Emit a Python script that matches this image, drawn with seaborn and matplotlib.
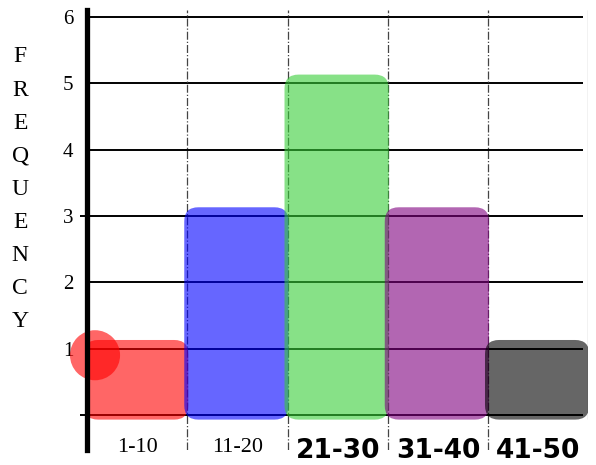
import matplotlib
matplotlib.use("Agg")
import pandas as pd
import seaborn as sns
import matplotlib.pyplot as plt
from matplotlib.patches import FancyBboxPatch

# ------ data ------ #
bins = ["1-10", "11-20", "21-30", "31-40", "41-50"]
frequency = [1, 3, 5, 3, 1]
bar_colors = ["#ff0000", "#0000ff", "#37cd37", "#7f007f", "#000000"]
y_ticks = [1, 2, 3, 4, 5, 6]
y_label = "FREQUENCY"
handwritten = ["21-30", "31-40", "41-50"]
# red marker blob sitting on the "1" line (category index units)
blob_x = [-0.42]
blob_y = [0.9]

sns.set_style("white")
plt.rcParams['font.family'] = ['Liberation Serif', 'DejaVu Serif']
plt.rcParams['text.color'] = "black"
plt.rcParams['xtick.color'] = "black"
plt.rcParams['ytick.color'] = "black"

df = pd.DataFrame({"bin": bins, "freq": frequency})

fig = plt.figure(figsize=(5.96, 4.65), dpi=100)
ax = fig.add_axes([0.146, 0.032, 0.841, 0.946])

# ------ grid lines ------ #
for v in [0] + y_ticks:
    ax.hlines(v, -0.5, 4.45, color="black", lw=1.4, zorder=1)
ax.hlines([0, 3], -0.57, -0.5, color="black", lw=1.4, zorder=1, clip_on=False)
for b in range(len(bins) - 1):
    ax.axvline(b + 0.5, color="#444444", lw=0.9, ls="-.", zorder=1)
ax.axvline(len(bins) - 0.5, ymin=0.07, color="#999999", lw=0.9, zorder=1)

# ------ bars ------ #
sns.barplot(data=df, x="bin", y="freq", hue="bin", palette=bar_colors,
            saturation=1, width=1.0, legend=False, ax=ax)

# replace the plain rectangles with rounded "marker" blobs
aspect = 100.6 / 66.3
for patch in list(ax.patches):
    x0, w, h = patch.get_x(), patch.get_width(), patch.get_height()
    fc = patch.get_facecolor()
    blob = FancyBboxPatch((x0 - 0.03, -0.07), w + 0.04, h + 0.2,
                          boxstyle="round,pad=0.0,rounding_size=0.14",
                          mutation_aspect=aspect, facecolor=fc[:3],
                          alpha=0.6, edgecolor="none", zorder=3)
    ax.add_patch(blob)
    patch.set_visible(False)

ax.scatter(blob_x, blob_y, s=1300, color="red", alpha=0.6,
           edgecolor="none", zorder=4, clip_on=False)

# ------ axes ------ #
ax.set_xlim(-0.5, 4.5)
ax.set_ylim(-0.53, 6.1)
for s in ["top", "right", "bottom"]:
    ax.spines[s].set_visible(False)
ax.spines["left"].set_linewidth(3.8)
ax.spines["left"].set_color("black")
ax.spines["left"].set_zorder(5)

ax.set_yticks(y_ticks)
ax.set_yticklabels([str(t) for t in y_ticks], fontsize=15)
ax.tick_params(axis="y", length=0, pad=10)
ax.set_xticks(range(len(bins)))
ax.set_xticklabels(bins)
ax.tick_params(axis="x", length=0, pad=-9)
for lbl in ax.get_xticklabels():
    if lbl.get_text() in handwritten:
        lbl.set_fontfamily("DejaVu Sans")
        lbl.set_fontweight("heavy")
        lbl.set_fontsize(19)
    else:
        lbl.set_fontsize(16)
ax.set_xlabel("")
ax.set_ylabel("")

# stacked vertical axis title
for i, ch in enumerate(y_label):
    fig.text(0.034, 1 - (57 + i * 33.1) / 465, ch, fontsize=17,
             ha="center", va="center")

fig.savefig("out.png", dpi=100)
